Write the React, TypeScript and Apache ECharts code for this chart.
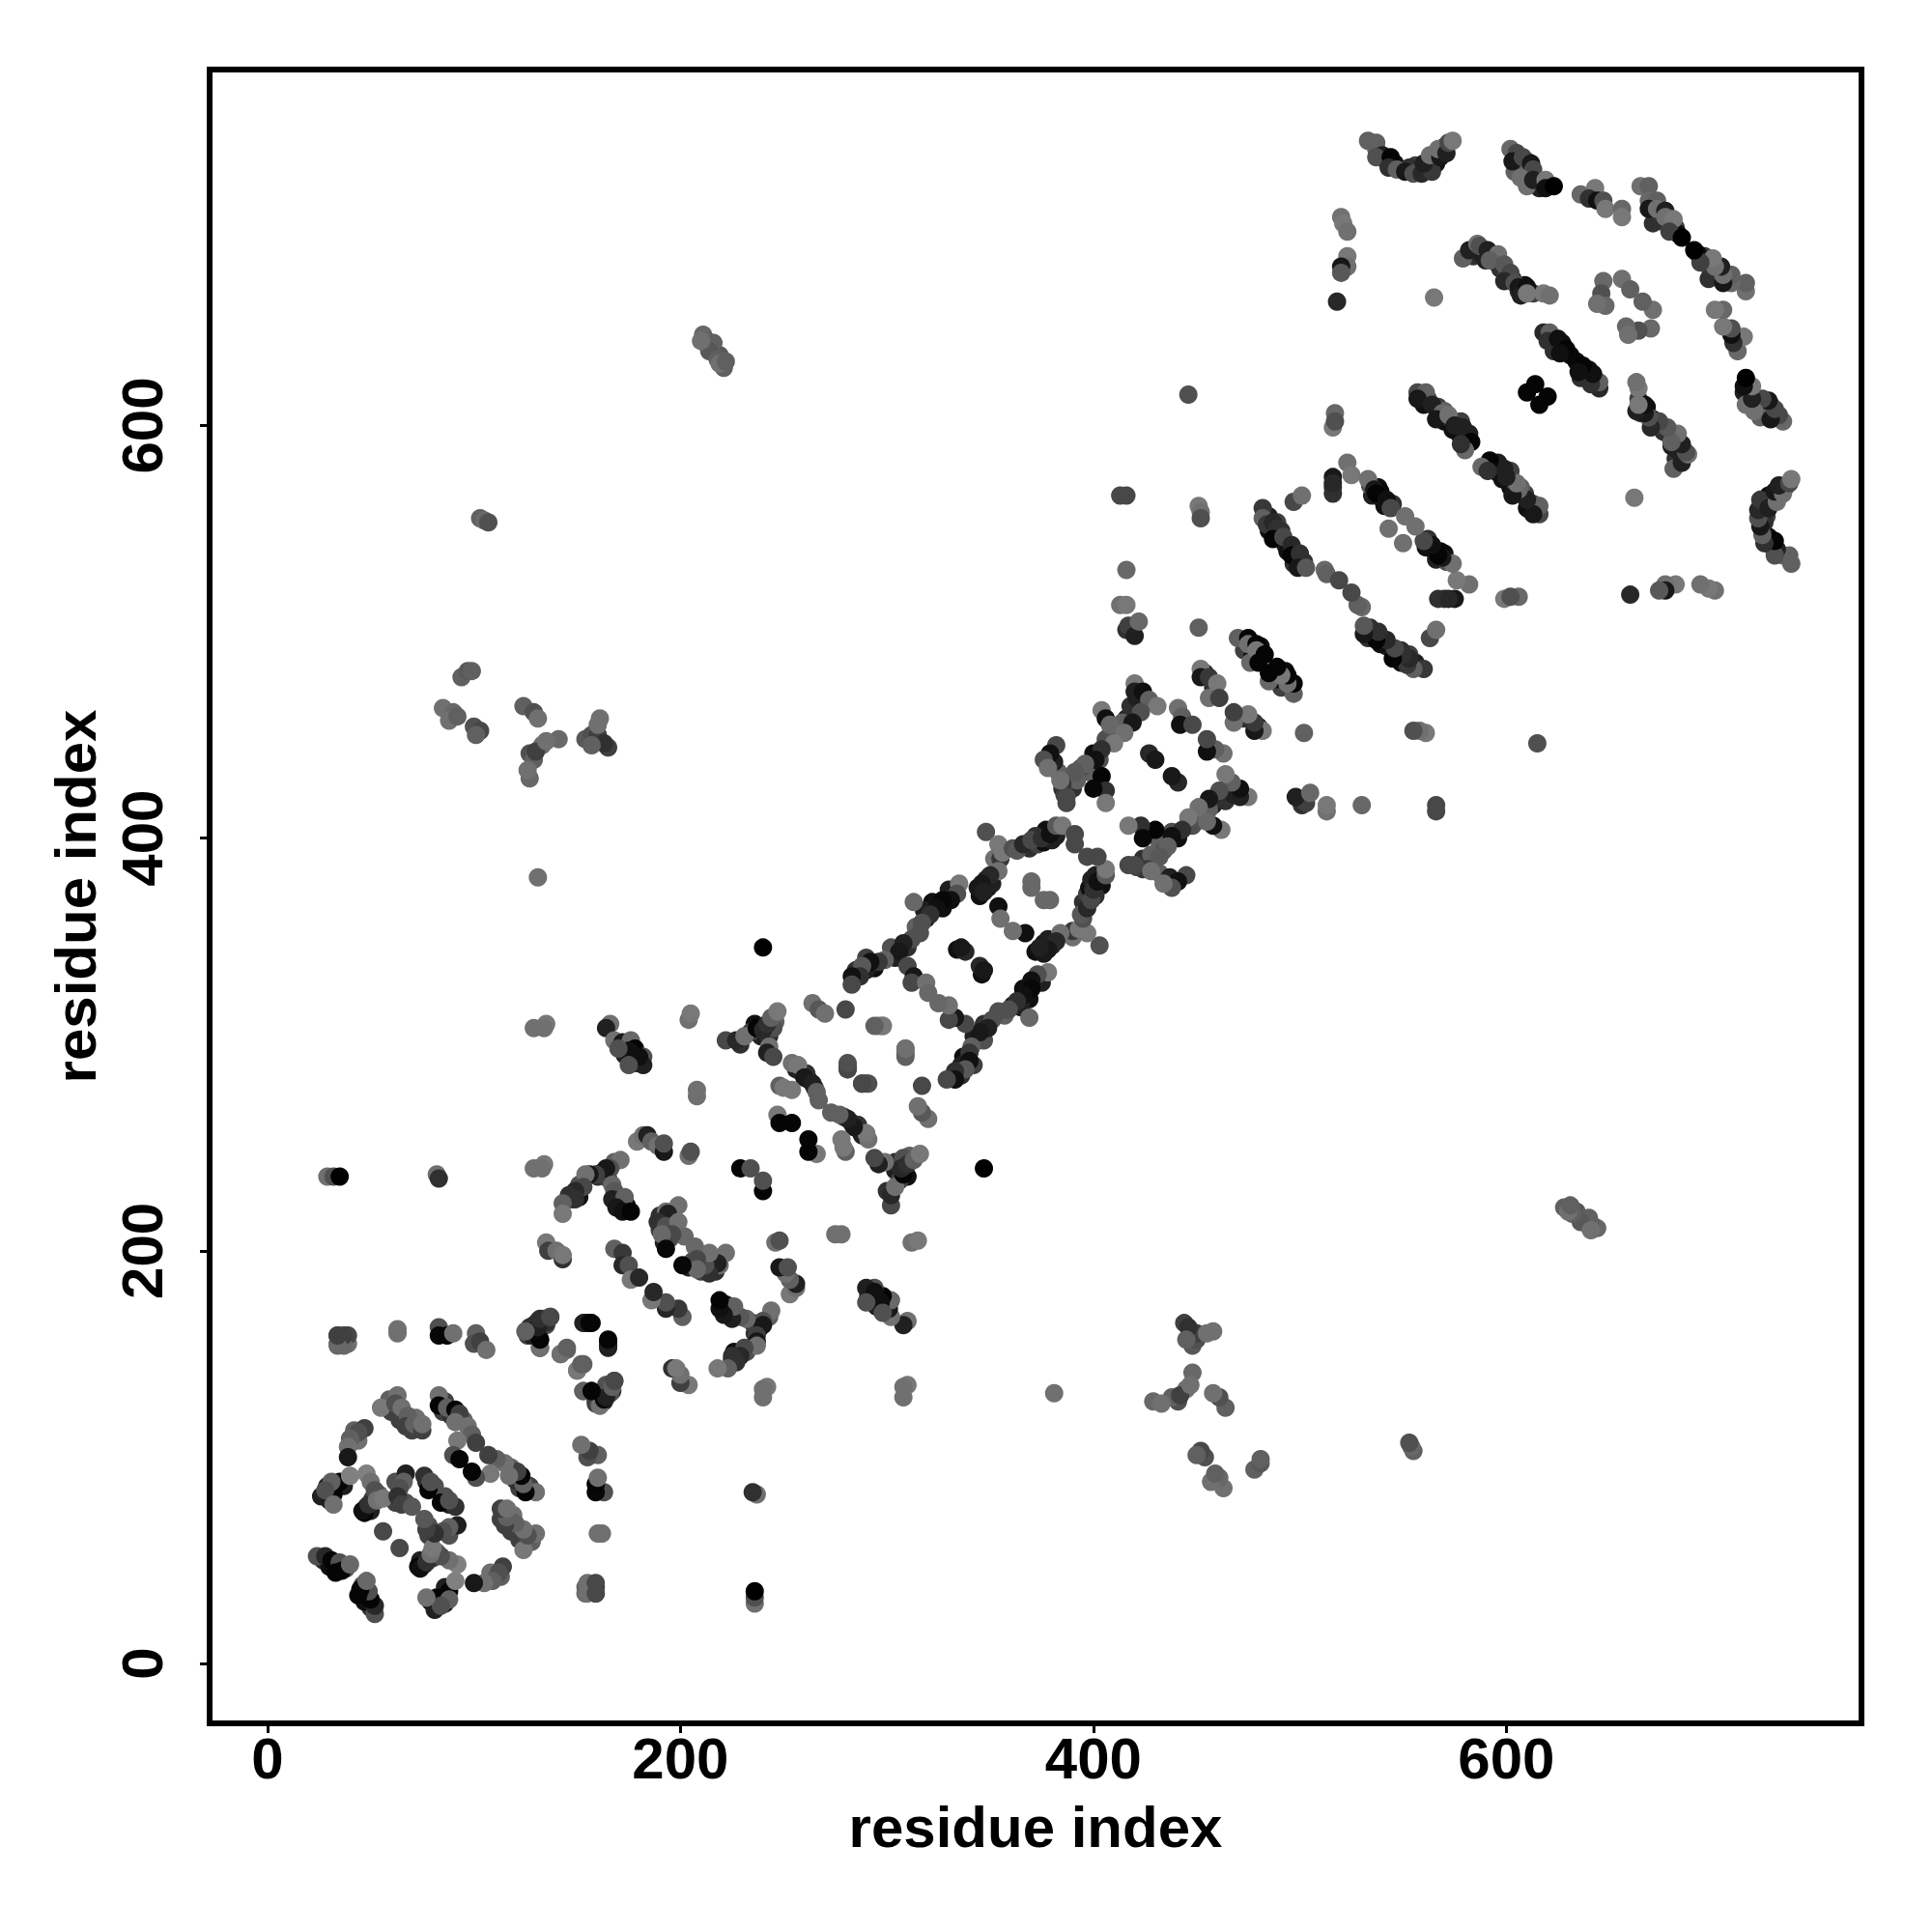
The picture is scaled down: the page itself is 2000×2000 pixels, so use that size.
import React, { useEffect, useRef } from "react";
import * as echarts from "echarts";

type Contact = [number, number, number];

const tickValues = [0, 200, 400, 600];
const xTitle = "residue index";
const yTitle = "residue index";

const domainA: Contact[] = [
  [59,128,0x60],[60,122,0x40],[64,118,0x40],[70,113,0x40],[72,119,0x70],[44,108,0x70],[42,113,0x60],[29,86,0x18],[33,85,0x10],[37,86,0x20],[30,79,0x20],
  [48,76,0x20],[50,74,0x20],[51,80,0x40],[54,82,0x60],[62,88,0x50],[62,78,0x40],[67,78,0x50],[77,88,0x20],[81,86,0x50],[85,122,0x40],[89,120,0x30],[95,118,0x60],[86,127,0x40],
  [27,50,0x30],[30,47,0x10],[34,46,0x20],[38,46,0x50],[126,159,0x40],[130,161,0x20],[131,166,0x50],[135,164,0x50],[159,128,0x20],[165,135,0x30],[163,127,0x30],
  [34,155,0x70],[39,155,0x70],[34,159,0x48],[39,159,0x48],[63,160,0x70],[63,162,0x70],[83,163,0x50],[83,159,0x08],[87,159,0x05],[90,160,0x70],
  [101,160,0x60],[100,155,0x50],[103,156,0x40],[106,152,0x70],[125,161,0x70],[128,163,0x08],[129,164,0x20],[134,167,0x60],[137,168,0x48],[132,153,0x60],[132,157,0x05],
  [154,165,0x20],[157,165,0x05],[165,153,0x20],[165,156,0x05],[142,150,0x78],[145,152,0x60],[150,142,0x70],[153,145,0x60],[153,132,0x70],[157,132,0x05],[161,129,0x08],[163,131,0x20],[161,125,0x60],[167,132,0x30],[168,137,0x48],
  [55,124,0x78],[63,130,0x70],[62,126,0x50],[65,124,0x70],[68,120,0x60],[67,115,0x40],[71,116,0x60],[75,113,0x40],[75,116,0x70],
  [83,130,0x70],[83,125,0x05],[87,124,0x60],[91,123,0x05],[93,121,0x40],[91,117,0x70],[97,115,0x70],[99,111,0x60],[101,107,0x40],[92,108,0x78],[90,101,0x50],[93,99,0x05],
  [47,114,0x40],[44,112,0x50],[40,109,0x60],[39,105,0x70],[39,100,0x18],[35,88,0x05],[32,82,0x05],[26,81,0x20],[31,88,0x60],[28,84,0x50],[32,77,0x70],[40,91,0x80],
  [47,73,0x05],[46,74,0x10],[49,77,0x30],[48,92,0x80],[50,88,0x70],[52,84,0x50],[53,79,0x70],[56,80,0x78],
  [67,92,0x20],[66,88,0x60],[64,85,0x50],[63,81,0x30],[65,77,0x40],[70,76,0x58],[76,91,0x30],[78,84,0x05],[79,88,0x50],[56,64,0x48],
  [24,52,0x50],[28,52,0x28],[31,50,0x05],[35,49,0x50],[33,44,0x05],[36,45,0x05],[40,48,0x68],
  [154,37,0x68],[159,37,0x40],[154,34,0x68],[159,34,0x40],
];

const domainB: Contact[] = [
  [129,308,0x70],[135,310,0x78],[166,310,0x70],[164,308,0x20],[168,302,0x70],[172,301,0x18],[176,302,0x68],[173,295,0x20],[178,298,0x05],[178,291,0x18],[182,294,0x50],[182,290,0x20],
  [204,312,0x70],[205,315,0x78],[208,275,0x70],[208,278,0x70],[204,246,0x70],[205,248,0x50],
  [135,204,0x78],[136,200,0x40],[140,200,0x70],[143,196,0x30],[143,198,0x78],[129,240,0x70],[134,242,0x78],
  [179,253,0x78],[182,256,0x70],[184,256,0x20],[186,253,0x60],[189,251,0x70],[192,248,0x18],[192,252,0x50],
  [175,297,0x10],[180,294,0x10],[170,298,0x50],[160,236,0x30],[162,238,0x10],[165,235,0x40],[151,232,0x50],[151,226,0x10],[147,225,0x30],[168,243,0x60],[170,224,0x10],[174,222,0x10],
  [190,217,0x30],[192,215,0x20],[196,216,0x60],[198,210,0x60],[190,210,0x40],[192,204,0x20],[195,206,0x50],
  [236,310,0x10],[239,304,0x20],[243,304,0x30],[246,311,0x60],[245,308,0x50],[234,306,0x40],[229,300,0x30],[258,287,0x20],[262,283,0x10],[265,279,0x30],[256,288,0x20],[261,286,0x30],
  [171,244,0x70],[166,240,0x50],[164,240,0x18],[159,237,0x40],[156,237,0x18],[154,237,0x70],[153,231,0x48],[149,229,0x28],[149,225,0x30],[146,227,0x30],[143,223,0x60],[143,218,0x78],
  [167,232,0x68],[168,229,0x58],[167,225,0x20],[173,226,0x60],[169,221,0x18],[172,219,0x10],[176,219,0x05],
  [199,222,0x70],[193,219,0x70],[194,218,0x20],[189,214,0x30],[193,212,0x50],[199,214,0x70],[202,207,0x68],[196,208,0x48],[191,208,0x68],[193,201,0x08],
  [168,201,0x60],[172,199,0x38],[172,193,0x28],[175,193,0x50],[176,186,0x78],[180,187,0x28],
  [264,320,0x70],[267,317,0x58],[270,315,0x70],[280,317,0x48],[296,309,0x60],[298,309,0x70],
  [222,302,0x48],[227,302,0x28],[231,304,0x70],[237,308,0x05],[240,307,0x28],[242,310,0x30],[244,313,0x60],[247,316,0x78],[243,299,0x70],[242,296,0x20],[245,294,0x48],
  [281,290,0x50],[281,288,0x48],[288,281,0x48],[291,281,0x50],[309,298,0x78],[309,294,0x60],
  [254,291,0x70],[257,290,0x78],[260,284,0x18],[264,281,0x20],[266,277,0x60],[267,273,0x60],[248,280,0x60],[250,279,0x78],[254,278,0x78],
  [247,266,0x78],[248,262,0x05],[254,262,0x05],[229,240,0x05],[234,240,0x50],[240,347,0x00],
];

const domainC: Contact[] = [
  [330,375,0x20],[327,366,0x10],[322,369,0x10],[319,361,0x10],[318,365,0x20],[314,357,0x60],[310,347,0x30],[304,342,0x20],[302,347,0x50],[294,337,0x10],[290,336,0x20],[285,336,0x30],[290,342,0x40],
  [349,376,0x10],[345,372,0x10],[351,378,0x20],[348,380,0x20],[369,395,0x30],[373,397,0x40],[377,404,0x10],[376,398,0x10],[380,399,0x20],[372,401,0x30],[382,401,0x20],
  [400,441,0x10],[398,432,0x60],[403,438,0x50],[394,434,0x50],[408,450,0x60],[412,453,0x60],[416,458,0x20],[422,464,0x30],[418,464,0x30],[421,468,0x20],[414,456,0x60],[406,448,0x50],[388,428,0x20],[390,424,0x30],[383,432,0x60],[381,437,0x20],
  [477,492,0x10],[473,491,0x40],[481,493,0x10],[477,488,0x10],[454,480,0x20],[458,473,0x30],
  [348,403,0x50],[354,397,0x78],[352,390,0x70],[355,390,0x38],[356,393,0x78],[354,384,0x70],[350,382,0x28],[346,378,0x18],[344,376,0x18],[347,374,0x20],
  [361,395,0x50],[363,394,0x58],[366,397,0x28],[370,399,0x48],[375,400,0x30],[379,402,0x10],[382,406,0x58],[385,406,0x78],[391,402,0x48],[391,397,0x48],
  [370,376,0x68],[370,379,0x68],[354,367,0x10],[355,361,0x70],[334,346,0x10],[338,345,0x28],[336,347,0x18],
  [335,378,0x78],[334,373,0x50],[331,370,0x10],[327,370,0x08],[324,366,0x10],[321,363,0x30],[317,359,0x50],[313,369,0x68],[316,354,0x50],[312,351,0x50],[308,349,0x20],[306,345,0x18],
  [299,341,0x60],[296,340,0x38],[292,340,0x10],[288,338,0x58],[287,333,0x30],[283,333,0x10],[283,329,0x48],
  [310,338,0x48],[313,333,0x18],[312,330,0x48],[319,330,0x70],[320,325,0x68],
  [385,424,0x30],[386,421,0x40],[387,417,0x48],[392,428,0x60],[404,430,0x05],[406,423,0x30],[406,417,0x78],
  [416,566,0x48],[413,566,0x48],[451,561,0x78],[452,558,0x70],[452,555,0x50],[416,530,0x68],[413,513,0x70],[416,513,0x78],[416,501,0x30],[417,503,0x40],[420,498,0x20],[422,505,0x68],[451,502,0x60],
  [470,497,0x60],[475,497,0x05],[475,494,0x70],[479,494,0x05],[476,485,0x68],[479,491,0x78],[480,485,0x05],[483,489,0x05],
  [452,482,0x78],[452,478,0x18],[456,478,0x38],[460,475,0x78],[456,468,0x70],[461,468,0x40],
  [404,462,0x78],[406,458,0x10],[408,455,0x68],[420,475,0x78],[420,471,0x20],[424,471,0x10],[427,467,0x60],[431,464,0x78],[423,461,0x50],[419,456,0x18],[415,451,0x70],[410,446,0x78],[404,443,0x30],[401,438,0x10],[396,436,0x60],[391,432,0x58],[385,426,0x38],[387,420,0x48],[384,428,0x70],[382,445,0x48],[379,441,0x10],[376,438,0x50],
  [441,463,0x70],[443,459,0x60],[442,455,0x10],[448,455,0x48],[427,441,0x28],[430,438,0x18],
  [378,434,0x70],[400,424,0x08],
];

const domainD: Contact[] = [
  [559,612,0x30],[562,613,0x50],[567,609,0x40],[570,602,0x10],[573,603,0x30],[577,596,0x10],[580,594,0x08],[582,596,0x20],[578,602,0x40],[570,607,0x60],[560,610,0x10],[574,598,0x10],
  [485,556,0x20],[489,553,0x40],[491,549,0x30],[485,549,0x10],[493,542,0x20],[498,535,0x10],[502,534,0x30],[494,539,0x10],[497,533,0x30],
  [538,570,0x10],[540,564,0x20],[539,568,0x08],[541,561,0x10],[535,566,0x20],[545,562,0x30],[534,571,0x50],
  [584,682,0x30],[588,683,0x20],[590,680,0x20],[595,679,0x50],[597,676,0x30],[600,673,0x40],[603,671,0x10],[606,665,0x30],[609,668,0x10],[613,664,0x40],
  [612,722,0x20],[609,725,0x10],[606,727,0x30],[610,728,0x40],[615,717,0x30],[616,715,0x20],[604,723,0x60],
  [672,703,0x20],[675,699,0x40],[679,697,0x50],[682,696,0x40],[683,693,0x10],[671,698,0x30],
  [546,727,0x10],[542,728,0x20],[556,726,0x40],[553,725,0x30],[562,725,0x30],[566,727,0x10],[570,735,0x40],[565,729,0x50],[537,734,0x60],
  [622,643,0x10],[624,638,0x10],[627,640,0x10],[623,636,0x30],[631,634,0x08],
  [482,560,0x38],[482,555,0x60],[484,552,0x38],[487,553,0x28],[489,550,0x30],[487,545,0x05],[492,546,0x48],[496,542,0x28],[496,537,0x05],[500,538,0x30],[499,531,0x18],[503,531,0x58],[512,530,0x68],[513,528,0x60],[519,525,0x48],
  [497,563,0x48],[501,566,0x70],[516,570,0x30],[516,567,0x30],[516,575,0x18],[516,572,0x28],
  [523,582,0x70],[525,576,0x78],[533,574,0x70],[536,569,0x18],[537,567,0x05],[542,564,0x10],[544,560,0x48],[551,556,0x70],[543,550,0x70],
  [517,606,0x68],[516,599,0x78],[517,602,0x50],
  [557,616,0x48],[561,616,0x60],[557,613,0x18],[564,610,0x20],[569,606,0x68],[566,603,0x18],[572,605,0x70],[575,600,0x20],[579,599,0x20],[583,592,0x05],[580,588,0x68],[578,591,0x30],
  [610,616,0x05],[614,620,0x05],[565,662,0x78],[518,660,0x28],
  [618,645,0x28],[621,645,0x60],[620,641,0x30],[625,642,0x10],[629,637,0x05],[626,635,0x10],
  [579,681,0x60],[582,685,0x20],[586,688,0x70],[587,687,0x50],[591,685,0x20],[596,683,0x70],[592,680,0x60],[599,678,0x58],[602,674,0x48],[599,670,0x28],[604,669,0x50],[606,667,0x18],[607,663,0x20],[610,667,0x10],[610,664,0x78],[618,664,0x78],[621,663,0x70],
  [647,670,0x68],[646,664,0x50],[648,658,0x68],[644,659,0x70],[656,671,0x70],[660,666,0x60],
  [520,701,0x70],[521,698,0x78],[523,694,0x70],[523,682,0x78],[523,677,0x70],[520,677,0x18],[520,674,0x58],
  [533,738,0x60],[537,737,0x60],[540,731,0x20],[537,730,0x50],[544,730,0x05],[543,725,0x30],[547,724,0x60],[551,723,0x18],[555,722,0x50],[559,722,0x28],[564,723,0x38],[560,727,0x20],[563,731,0x70],[568,730,0x18],[567,734,0x70],[571,732,0x20],[572,737,0x48],[574,738,0x78],
  [602,734,0x68],[605,732,0x48],[603,728,0x18],[608,730,0x48],[612,727,0x18],[613,724,0x48],[607,720,0x70],[610,716,0x70],[613,719,0x20],[619,719,0x78],[619,715,0x10],[623,716,0x00],
  [636,712,0x68],[643,715,0x78],[640,710,0x30],[644,709,0x10],[647,709,0x50],[648,705,0x78],[656,705,0x68],[656,701,0x78],
  [665,716,0x70],[669,716,0x60],[669,709,0x68],[673,709,0x60],[669,705,0x18],[673,705,0x70],[677,704,0x20],[677,701,0x70],[681,700,0x78],[679,694,0x40],[685,691,0x00],
  [446,615,0x50],
];

const farClusters: Contact[] = [
  [211,644,0x68],[213,641,0x60],[215,638,0x50],[216,636,0x68],[219,634,0x58],[221,628,0x60],[212,640,0x78],[216,640,0x60],[214,636,0x58],[218,632,0x60],[219,630,0x70],[210,641,0x70],[222,631,0x60],
  [103,555,0x60],[105,554,0x68],[107,553,0x50],[94,478,0x60],[97,481,0x58],[99,481,0x60],
  [85,463,0x70],[90,461,0x68],[88,457,0x70],[100,454,0x50],[103,452,0x48],[101,450,0x60],[92,459,0x60],
  [124,464,0x60],[129,461,0x50],[131,458,0x70],[127,441,0x50],[129,438,0x60],[133,445,0x70],[141,448,0x68],[127,429,0x68],[126,433,0x70],[130,442,0x40],[135,447,0x70],
  [154,448,0x58],[157,450,0x50],[160,450,0x40],[161,458,0x70],[165,444,0x40],[163,446,0x30],[131,381,0x70],[160,455,0x70],[157,445,0x60],
  [29,236,0x70],[32,236,0x50],[35,236,0x00],[82,237,0x70],[83,235,0x30],[133,240,0x70],[134,308,0x70],[175,290,0x50],
];

const allContacts: Contact[] = [...domainA, ...domainB, ...domainC, ...domainD, ...farClusters];
const points = [...allContacts, ...allContacts.map(([i, j, g]) => [j, i, g] as Contact)];

export default function App() {
  const ref = useRef<HTMLDivElement>(null);
  useEffect(() => {
    const chart = echarts.init(ref.current!, undefined, { renderer: "svg" });
    const font = { color: "#000", fontFamily: "Liberation Sans", fontWeight: "bold" as const, fontSize: 60 };
    const tick = { show: true, length: 10, lineStyle: { color: "#000", width: 3 }, customValues: tickValues };
    const common = {
      type: "value" as const,
      splitLine: { show: false },
      axisLine: { show: false, onZero: false },
      nameLocation: "middle" as const,
      nameTextStyle: font,
      axisTick: tick,
    };
    chart.setOption({
      animation: false,
      backgroundColor: "#fff",
      grid: { left: 217, top: 72, width: 1710, height: 1712, show: true, borderColor: "#000", borderWidth: 6, backgroundColor: "transparent" },
      xAxis: {
        ...common,
        min: -28,
        max: 772,
        name: xTitle,
        nameGap: 77,
        axisLabel: { ...font, margin: 6, customValues: tickValues },
      },
      yAxis: {
        ...common,
        min: -29,
        max: 772.5,
        name: yTitle,
        nameGap: 109,
        axisLabel: { ...font, margin: 40, rotate: 90, customValues: tickValues },
      },
      series: [
        {
          type: "scatter",
          symbol: "circle",
          symbolSize: 19,
          data: points,
          itemStyle: {
            opacity: 1,
            color: (p: any) => {
              const g = p.value[2];
              return `rgb(${g},${g},${g})`;
            },
          },
        },
      ],
    });
    return () => chart.dispose();
  }, []);
  return <div ref={ref} style={{ position: "absolute", left: 0, top: 0, width: 2000, height: 2000 }} />;
}
